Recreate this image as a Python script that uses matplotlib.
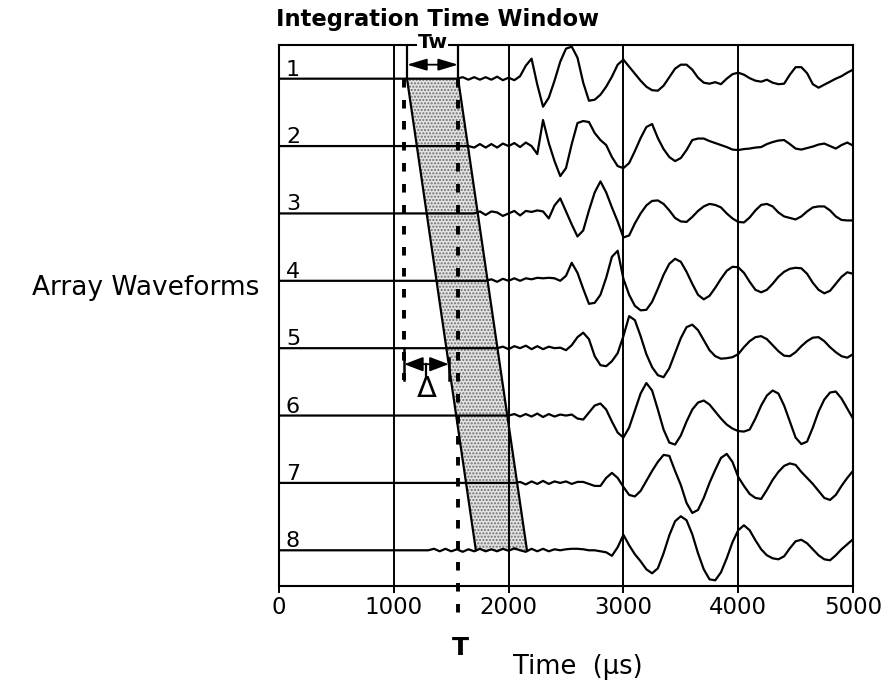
import numpy as np
import matplotlib.pyplot as plt

# sample times of the waveforms (us); every trace is flat from 0 to 1000 us
t_grid = np.arange(1000, 5001, 50)

# amplitudes, 81 values each (1000 ... 5000 us)
amp1 = [0, 0, 0, 0, 0, 0, 0, 0, 0, 0,
        0, 0, 1.5, -1, 1.5, -1, 1.5, -1, 2, -1.5,
        1, -1.5, 2.5, 13, 20, -6, -28, -19, -2, 17,
        30, 32, 21, -4, -22, -21, -16, -8, 2, 14,
        19, 12, 5, -2, -8, -11.5, -12, -7, 1.5, 10,
        14, 14, 9, 1, -4, -5, -3.5, -5.5, 0, 4.5,
        6, 4, 0.5, -2, -3, -1, -4, -5.5, -5, 4,
        11.5, 11.5, 5.5, -5.5, -9, -6, -3, 0, 2.5, 6,
        9]
amp2 = [0, 0, 0, 0, 0, 0, 0, 0, 0, 0,
        0, 0, 0, 0, -1.5, 2, -1.5, 2, -1.5, 2.5,
        0, 3, -1, 3.5, 0, -8, 26, 3, -15, -30,
        -22, 2, 23, 25, 24, 13, 6, 1, -11, -20,
        -22, -17, -5, 8, 19, 22, 8, -3, -11, -15,
        -12, -4, 6, 7.5, 7.5, 5, 3, 1, -1, -3.5,
        -4, -3, -2.5, -1.5, -1, 2, 4, 5.5, 6, 2,
        -2.5, -3.5, -2, -0.5, 1.5, 2.5, 0, -2.5, 1, 3.5,
        0.5]
amp3 = [0, 0, 0, 0, 0, 0, 0, 0, 0, 0,
        0, 0, 0, 0, 0, 2, -1.5, 2, 1, -2.5,
        0, 2.5, -2, 2.5, 1.5, 3, 2, -5, 8, 15,
        2, -11, -23, -17, 3, 21, 32, 21, 6, -8,
        -24, -22, -10, 0, 8, 12.5, 13, 9.5, 3, -4.5,
        -8, -8.5, -3.5, 2.5, 7, 9.5, 8.5, 6, 0, -5,
        -8.5, -9, -4, 3, 8.5, 9.5, 7, 1, -3, -4.5,
        -6, -3, 2, 6, 7, 7, 3, -3, -6.5, -7,
        -7]
amp4 = [0, 0, 0, 0, 0, 0, 0, 0, 0, 0,
        0, 0, 0, 0, 0, 0, 0, 1.5, -1, 2,
        0, 2.5, 0, 2.5, 1.5, 3, 2.5, 3, 2.5, 0,
        5, 18, 8, -8, -23, -22, -14, 3, 24, 30,
        2, -14, -25, -29.5, -29, -21, -8, 6, 17, 22,
        19, 9, -3, -14, -18.5, -15, -7, 2, 10, 14,
        13.5, 8, -1, -9, -11.5, -9, -3, 4, 9, 12,
        13, 12.5, 7, -2, -9, -12.5, -10, -3, 4, 8.5,
        7]
amp5 = [0, 0, 0, 0, 0, 0, 0, 0, 0, 0,
        0, 0, 0, 0, 0, 0, 0, 0, 0, 1.5,
        -1, 2, 0, 2.5, -1, 2, -1, 1.5, 0, 0.5,
        -2, 3, 11, 15.5, 9, -8, -17, -18, -13, -5,
        12, 32, 28, 12, -6, -19, -27, -29, -20, -5,
        10, 21, 23.5, 18, 8, -2, -8, -10.5, -10, -9,
        -6, 1, 7, 11, 12, 9, 3, -3, -7.5, -8,
        -4, 2, 7, 10.5, 11, 7, 1, -4, -8, -9.5,
        -6]
amp6 = [0, 0, 0, 0, 0, 0, 0, 0, 0, 0,
        0, 0, 0, 0, 0, 0, 0, 0, 0, 0,
        0, 1.5, -1, 1.5, -1, 2, -1.5, 1.5, -1, 1,
        0, 1, -3, -4, 3, 10, 12, 6, -6, -17,
        -22, -12, 5, 22, 32.5, 25, 6, -14, -27, -29,
        -20, -6, 6, 13, 15, 11, 4, -3, -9, -13,
        -15.5, -16, -14, -3, 10, 20, 25, 22, 10, -6,
        -22, -28.5, -26, -12, 4, 16, 23, 24, 17, 7,
        -3]
amp7 = [0, 0, 0, 0, 0, 0, 0, 0, 0, 0,
        0, 0, 0, 0, 0, 0, 0, 0, 0, 0,
        0, 0, 1, -1.5, 1.5, -1, 2, -1, 1.5, 0,
        1.5, -1, 1, 1, -1, -3, -3, 5, 10, 5,
        -4, -12, -13.5, -8, 2, 12, 21, 28, 27, 12,
        -2, -20, -30, -27, -15, 0, 13, 25, 29, 21,
        6, -3, -11, -15, -16, -7, 3, 11, 17, 19.5,
        18, 11, 5, -1, -8, -15, -17, -12, -3, 5,
        12]
amp8 = [0, 0, 0, 0, 0, 0, 0, 1.5, -1, 1.5,
        -1, 1, -1.5, 1, -1, 1.5, -1, 1, -1, 1.5,
        -0.5, 2, 0, -1.5, 1.5, -1, 1.5, -1, 1, 0,
        1, 1.5, 1.5, 1, 0, 0, -1, -2, -5.5, 3,
        15.5, 5, -4, -11, -19, -23, -18, -3, 15, 29,
        34, 30, 16, -3, -19, -29, -30, -22, -8, 8,
        20, 25, 20, 10, 1, -5, -8, -9, -6, 2,
        9, 10.5, 7, 1, -5, -9, -10, -5, 1, 6,
        11]
traces = [amp1, amp2, amp3, amp4, amp5, amp6, amp7, amp8]
labels = ['1', '2', '3', '4', '5', '6', '7', '8']
gap = 67.3  # amplitude units between two baselines

win_start = [1115, 1715]  # window start on trace 1 and on trace 8 (us)
win_len = 445             # Tw
ref_t = 1090              # dotted reference line
T_t = 1560                # time T
xticks = [0, 1000, 2000, 3000, 4000, 5000]

fig = plt.figure(figsize=(8.88, 6.83), dpi=100)
ax = fig.add_axes([279 / 888, 1 - 586 / 683, 574 / 888, 541 / 683])
ax.set_xlim(0, 5000)
ytop = 7.5
ax.set_ylim(-0.53, ytop)

# shaded integration window
bx = [win_start[0], win_start[0] + win_len, win_start[1] + win_len, win_start[1]]
ax.fill(bx, [7, 7, 0, 0], facecolor='#e2e2e2', edgecolor='#6f6f6f',
        hatch='.....', lw=0, zorder=1)
ax.plot([win_start[0], win_start[1]], [7, 0], color='k', lw=1.6, zorder=3)
ax.plot([win_start[0] + win_len, win_start[1] + win_len], [7, 0], color='k', lw=1.6, zorder=3)

for x in xticks[1:-1]:
    ax.axvline(x, color='k', lw=1.4, zorder=2)

t_full = np.r_[0, t_grid]
for i, amp in enumerate(traces):
    base = 7 - i
    ax.plot(t_full, base + np.r_[0, amp] / gap, color='k', lw=1.6,
            solid_joinstyle='round', zorder=4)
    ax.text(60, base + 3 / gap, labels[i], fontsize=16, ha='left', va='baseline')

# Tw bracket
for x in [win_start[0], win_start[0] + win_len]:
    ax.plot([x, x], [7, ytop], color='k', lw=1.6, zorder=3)
ax.annotate('', xy=(win_start[0], 7 + 14 / gap), xytext=(win_start[0] + win_len, 7 + 14 / gap),
            arrowprops=dict(arrowstyle='<|-|>,head_length=0.6,head_width=0.18',
                            mutation_scale=20, shrinkA=0, shrinkB=0, color='k', lw=1.3))
ax.text(win_start[0] + win_len / 2, ytop - 3 / gap, 'Tw', fontsize=14.5, weight='bold',
        ha='center', va='baseline', zorder=5,
        bbox=dict(facecolor='white', edgecolor='none', pad=0.2))

# dotted lines
dots = (0, (2.2, 3.2))
y_dbot = 3 - 32 / gap
ax.plot([ref_t, ref_t], [7, y_dbot], color='k', lw=2.8, ls=dots, dash_capstyle='butt', zorder=3)
ax.plot([T_t, T_t], [7, -1.03], color='k', lw=2.8, ls=dots, dash_capstyle='butt',
        zorder=3, clip_on=False)

# delta bracket
y_d = 3 - 16 / gap
d_end = np.interp(y_d, [0, 7], [win_start[1], win_start[0]])
ax.plot([ref_t, ref_t], [3, y_dbot], color='k', lw=1.8, zorder=3)
ax.plot([d_end, d_end], [3 - 10 / gap, y_dbot], color='k', lw=1.8, zorder=3)
ax.annotate('', xy=(ref_t, y_d), xytext=(d_end, y_d),
            arrowprops=dict(arrowstyle='<|-|>,head_length=0.58,head_width=0.22',
                            mutation_scale=20, shrinkA=0, shrinkB=0, color='k', lw=1.3))
d_mid = (ref_t + d_end) / 2
ax.plot([d_mid, d_mid], [y_d, y_d - 14 / gap], color='k', lw=1.6, zorder=3)
ax.text(d_mid, 3 - 49 / gap, 'Δ', fontsize=21, ha='center', va='baseline')

for s in ax.spines.values():
    s.set_linewidth(1.5)
ax.set_yticks([])
ax.set_xticks(xticks)
ax.set_xticklabels([str(v) for v in xticks])
ax.tick_params(axis='x', direction='out', length=5, width=1.4, labelsize=16.5, pad=2)

fig.text(276 / 888, 1 - 26 / 683, 'Integration Time Window', fontsize=16.3, weight='bold',
         ha='left', va='baseline')
fig.text(146 / 888, 1 - 288 / 683, 'Array Waveforms', fontsize=19, ha='center', va='center')
fig.text(460 / 888, 1 - 655 / 683, 'T', fontsize=18, weight='bold', ha='center', va='baseline')
fig.text(513 / 888, 1 - 674 / 683, 'Time  (μs)', fontsize=18.5, ha='left', va='baseline')

fig.savefig('out.png', dpi=100, facecolor='white')
